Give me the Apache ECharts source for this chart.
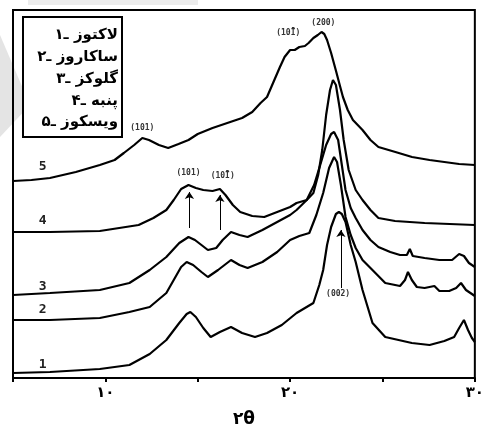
<!DOCTYPE html>
<html>
<head>
<meta charset="utf-8">
<script src="https://cdn.jsdelivr.net/npm/echarts@6/dist/echarts.min.js"></script>
<style>
  html, body { margin: 0; padding: 0; background: #fff; }
  #chart { width: 487px; height: 438px; }
</style>
</head>
<body>
<div id="chart"></div>
<script>
// 2θ (deg), intensity (a.u.), curves already offset
const lactose = [
  [5.0, 5], [7.0, 6], [9.7, 9], [11.3, 13], [12.4, 24], [13.3, 38], [14.0, 55], [14.4, 64],
  [14.6, 66], [14.9, 61], [15.3, 50], [15.7, 41], [16.2, 46], [16.8, 51], [17.4, 45], [18.1, 41],
  [18.75, 45], [19.55, 53], [20.35, 65], [21.26, 75], [21.58, 93], [21.79, 108], [22.0, 133],
  [22.22, 151], [22.48, 164], [22.64, 166], [22.8, 164], [23.0, 156], [23.28, 133], [23.55, 116],
  [23.92, 88], [24.46, 55], [25.15, 41], [26.59, 35], [27.55, 33], [28.35, 37], [28.88, 41],
  [29.15, 50], [29.41, 58], [29.63, 48], [29.84, 40], [30.0, 36]
];
const sucrose = [
  [5.0, 58], [7.0, 58], [9.7, 60], [11.3, 66], [12.4, 71], [13.3, 85], [13.7, 98], [14.1, 111],
  [14.4, 116], [14.75, 113], [15.2, 106], [15.55, 101], [16.1, 108], [16.8, 118], [17.26, 113],
  [17.7, 110], [18.5, 116], [19.3, 126], [20.0, 138], [20.5, 142], [21.04, 145], [21.42, 163],
  [21.79, 185], [22.11, 210], [22.38, 221], [22.54, 216], [22.75, 193], [23.0, 161], [23.28, 143],
  [23.55, 130], [23.92, 118], [24.35, 110], [25.15, 95], [25.95, 92], [26.22, 98], [26.38, 106],
  [26.59, 98], [26.86, 91], [27.28, 90], [27.81, 92], [28.08, 87], [28.61, 87], [28.99, 90],
  [29.25, 95], [29.52, 88], [30.0, 82]
];
const glucose = [
  [5.0, 83], [7.0, 85], [9.7, 88], [11.3, 95], [12.4, 108], [13.3, 121], [14.0, 135], [14.5, 141],
  [14.85, 138], [15.2, 133], [15.55, 128], [16.0, 130], [16.35, 138], [16.8, 146], [17.26, 143],
  [17.7, 141], [18.5, 148], [19.3, 156], [20.0, 163], [20.35, 168], [20.9, 178], [21.3, 193],
  [21.63, 213], [21.95, 233], [22.22, 244], [22.38, 246], [22.6, 238], [22.8, 213], [23.0, 188],
  [23.28, 170], [23.55, 160], [23.92, 148], [24.35, 138], [24.78, 131], [25.42, 126], [25.95, 123],
  [26.32, 123], [26.48, 129], [26.64, 122], [27.28, 120], [28.08, 118], [28.77, 118], [29.15, 124],
  [29.41, 122], [29.68, 115], [30.0, 111]
];
const cotton = [
  [5.0, 146], [7.0, 146], [9.7, 147], [11.8, 153], [12.6, 160], [13.3, 168], [13.7, 178], [14.1, 189],
  [14.5, 193], [14.9, 190], [15.3, 188], [15.8, 187], [16.2, 189], [16.5, 183], [16.9, 173],
  [17.3, 166], [17.95, 162], [18.6, 161], [19.3, 166], [20.0, 171], [20.35, 175], [20.9, 178],
  [21.26, 185], [21.52, 203], [21.74, 228], [21.95, 263], [22.16, 288], [22.32, 298], [22.48, 293],
  [22.7, 268], [22.9, 238], [23.17, 208], [23.55, 188], [23.92, 178], [24.35, 168], [24.78, 160],
  [25.68, 157], [27.28, 155], [30.0, 153]
];
const viscose = [
  [5.0, 197], [6.0, 198], [7.0, 200], [8.4, 206], [9.7, 213], [10.5, 218], [11.0, 225], [11.56, 233],
  [12.0, 240], [12.36, 238], [12.9, 233], [13.4, 230], [13.96, 234], [14.5, 238], [15.0, 244],
  [15.8, 250], [16.6, 255], [17.4, 260], [17.95, 266], [18.4, 275], [18.75, 281], [19.1, 296],
  [19.45, 311], [19.7, 321], [20.0, 328], [20.25, 328], [20.5, 331], [20.8, 332], [21.0, 335],
  [21.26, 340], [21.5, 343], [21.7, 346], [21.85, 344], [22.0, 338], [22.22, 325], [22.5, 306],
  [22.7, 292], [22.86, 281], [23.12, 268], [23.4, 258], [23.92, 248], [24.35, 238], [24.78, 231],
  [25.7, 226], [26.6, 221], [27.55, 218], [28.35, 216], [29.15, 214], [30.0, 213]
];

const curves = [lactose, sucrose, glucose, cotton, viscose];
const curveNumbers = ['1', '2', '3', '4', '5'];
const curveNumberPos = [[6.6, 13], [6.6, 68], [6.6, 91], [6.6, 157], [6.6, 211]];
const legendLines = ['لاکتوز ـ۱', 'ساکاروز ـ۲', 'گلوکز ـ۳', 'پنبه ـ۴', 'ویسکوز ـ۵'];
const xTicks = [10, 20, 30];
const xTickText = ['۱۰', '۲۰', '۳۰'];

// peak indexes written next to the curves
const peakNotes = [
  { text: '(101)', at: [12.0, 250], curve: 4 },
  { text: '(10Ī)', at: [19.9, 345], curve: 4 },
  { text: '(200)', at: [21.8, 355], curve: 4 },
  { text: '(101)', at: [14.5, 205], curve: 3 },
  { text: '(10Ī)', at: [16.35, 202], curve: 3 },
  { text: '(002)', at: [22.6, 84], curve: 0 }
];
// arrows from a note up to its peak
const arrows = [
  { from: [14.55, 150], to: [14.55, 186], curve: 3 },
  { from: [16.2, 148], to: [16.2, 183], curve: 3 },
  { from: [22.75, 90], to: [22.75, 148], curve: 0 }
];

const chart = echarts.init(document.getElementById('chart'));

const series = curves.map((data, i) => {
  const notes = peakNotes.filter(n => n.curve === i);
  const arr = arrows.filter(a => a.curve === i);
  return {
    type: 'line',
    data: data,
    showSymbol: false,
    silent: true,
    lineStyle: { color: '#000', width: 2.2 },
    markPoint: {
      silent: true,
      symbol: 'rect',
      symbolSize: 1,
      itemStyle: { color: 'rgba(0,0,0,0)' },
      data: [
        {
          coord: curveNumberPos[i],
          label: {
            show: true, position: 'inside', formatter: curveNumbers[i],
            color: '#222', fontSize: 13, fontWeight: 'bold', fontFamily: 'DejaVu Sans Mono'
          }
        }
      ].concat(notes.map(n => ({
        coord: n.at,
        label: {
          show: true, position: 'inside', formatter: n.text,
          color: '#333', fontSize: 8, fontWeight: 'bold', fontFamily: 'DejaVu Sans Mono'
        }
      })))
    },
    markLine: arr.length ? {
      silent: true,
      symbol: ['none', 'arrow'],
      symbolSize: 7,
      label: { show: false },
      lineStyle: { color: '#000', width: 1, type: 'solid' },
      data: arr.map(a => [{ coord: a.from }, { coord: a.to }])
    } : undefined
  };
});

const legendY = [35, 57, 79, 101, 122];

chart.setOption({
  animation: false,
  backgroundColor: '#fff',
  grid: {
    left: 13, right: 6, top: 10, bottom: 60,
    show: true, borderColor: '#000', borderWidth: 2
  },
  xAxis: {
    type: 'value',
    min: 5, max: 30, interval: 5,
    name: '۲θ',
    nameLocation: 'middle',
    nameGap: 33,
    nameTextStyle: { color: '#000', fontSize: 17, fontWeight: 'bold', fontFamily: 'DejaVu Sans' },
    axisLine: { show: true, lineStyle: { color: '#000', width: 2 } },
    axisTick: { show: true, length: 4, lineStyle: { color: '#000', width: 2 } },
    axisLabel: {
      color: '#000', fontSize: 15, fontWeight: 'bold', fontFamily: 'DejaVu Sans', margin: 8,
      formatter: v => {
        const k = xTicks.indexOf(v);
        return k >= 0 ? xTickText[k] : '';
      }
    },
    splitLine: { show: false }
  },
  yAxis: {
    type: 'value',
    min: 0, max: 368,
    axisLine: { show: false },
    axisTick: { show: false },
    axisLabel: { show: false },
    splitLine: { show: false }
  },
  graphic: [
    {
      type: 'polygon', z: -10, silent: true,
      shape: { points: [[0, 35], [30, 105], [0, 137]] },
      style: { fill: '#e4e4e4' }
    },
    {
      type: 'rect', z: -10, silent: true,
      shape: { x: 28, y: 0, width: 170, height: 5 },
      style: { fill: '#ececec' }
    },
    {
      type: 'rect', z: 100, silent: true,
      shape: { x: 23, y: 17, width: 99, height: 120 },
      style: { fill: '#fff', stroke: '#000', lineWidth: 2 }
    }
  ].concat(legendLines.map((t, i) => ({
    type: 'text', z: 101, silent: true,
    style: {
      x: 118, y: legendY[i], text: t, align: 'right', verticalAlign: 'middle',
      fill: '#000', font: 'bold 15px "DejaVu Sans"'
    }
  }))),
  series: series
});
</script>
</body>
</html>
